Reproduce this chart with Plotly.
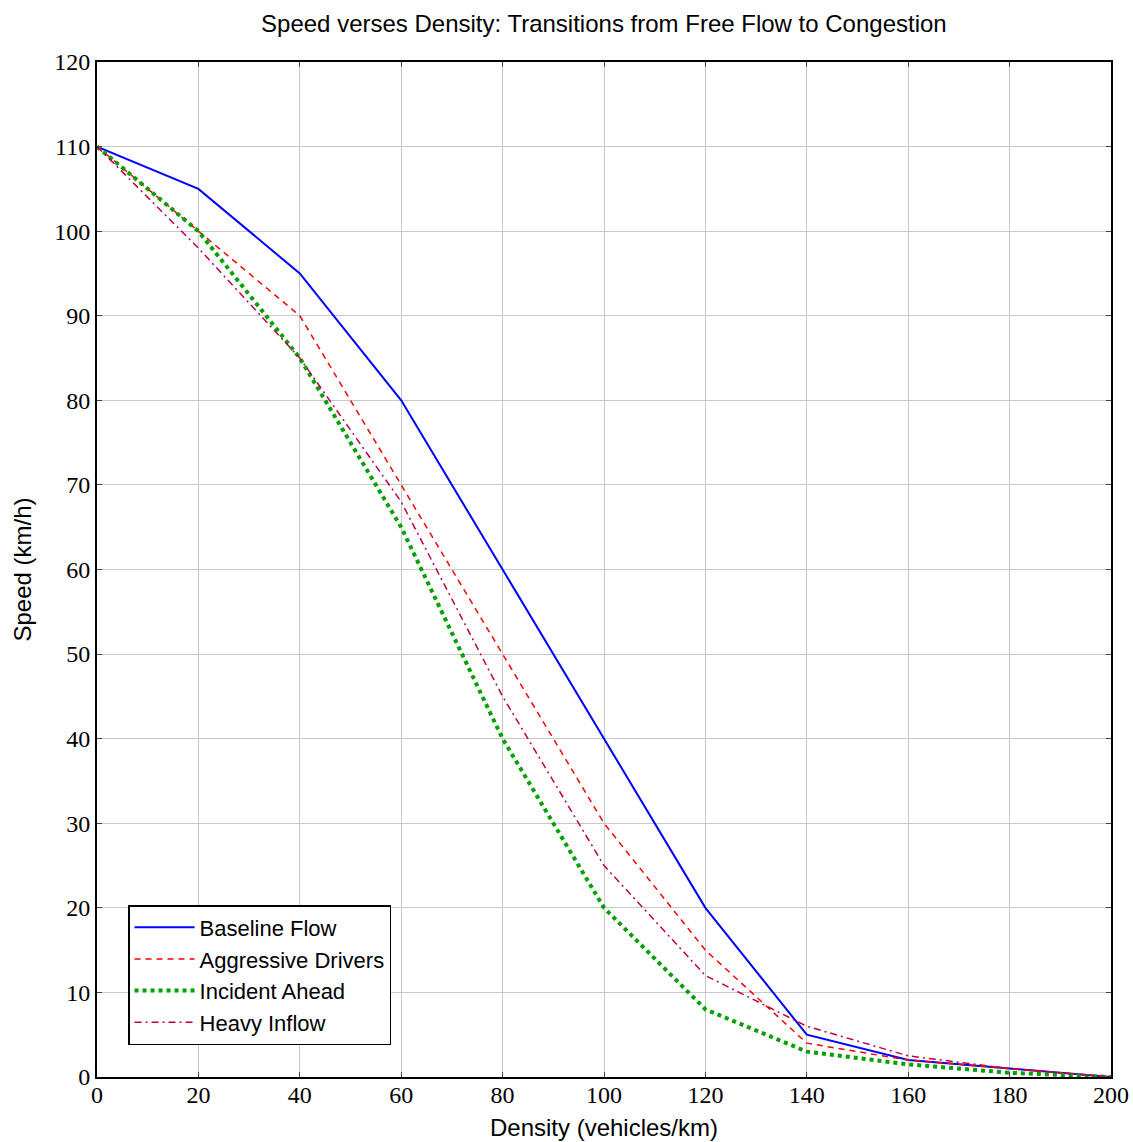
import plotly.graph_objects as go

density = [0, 20, 40, 60, 80, 100, 120, 140, 160, 180, 200]
baseline = [110, 105, 95, 80, 60, 40, 20, 5, 2, 1, 0]
aggressive = [110, 100, 90, 70, 50, 30, 15, 4, 2, 1, 0]
incident = [110, 100, 85, 65, 40, 20, 8, 3, 1.5, 0.5, 0]
heavy = [110, 98, 85, 68, 45, 25, 12, 6, 2.5, 1, 0]

x_ticks = [0, 20, 40, 60, 80, 100, 120, 140, 160, 180, 200]
y_ticks = [0, 10, 20, 30, 40, 50, 60, 70, 80, 90, 100, 110, 120]

fig = go.Figure()
fig.add_trace(go.Scatter(x=density, y=baseline, mode="lines", name="Baseline Flow",
                         line=dict(color="#0000ff", width=2, dash="solid")))
fig.add_trace(go.Scatter(x=density, y=aggressive, mode="lines", name="Aggressive Drivers",
                         line=dict(color="#ff0000", width=1.5, dash="6px,5px")))
fig.add_trace(go.Scatter(x=density, y=incident, mode="lines", name="Incident Ahead",
                         line=dict(color="#00a000", width=4, dash="4px,4px")))
fig.add_trace(go.Scatter(x=density, y=heavy, mode="lines", name="Heavy Inflow",
                         line=dict(color="#bf0040", width=1.5, dash="7px,4px,2px,4px")))

serif = "Liberation Serif, DejaVu Serif, serif"
sans = "Liberation Sans, Arial, sans-serif"

axis_common = dict(
    showgrid=True, gridcolor="#c8c8c8", gridwidth=1,
    showline=True, linecolor="black", linewidth=2, mirror="allticks",
    ticks="inside", ticklen=5, tickcolor="#444444", tickwidth=1,
    zeroline=False, automargin=False,
    tickfont=dict(family=serif, size=24, color="black"),
)

fig.update_xaxes(range=[0, 200], tickmode="array", tickvals=x_ticks,
                 ticklabelstandoff=-5,
                 title=dict(text="Density (vehicles/km)", font=dict(family=sans, size=24, color="black"), standoff=12),
                 **axis_common)
fig.update_yaxes(range=[0, 120], tickmode="array", tickvals=y_ticks,
                 ticklabelstandoff=0,
                 title=dict(text="Speed (km/h)", font=dict(family=sans, size=24, color="black"), standoff=16),
                 **axis_common)

fig.update_layout(
    width=1133, height=1142,
    margin=dict(l=97, r=22, t=62, b=65),
    plot_bgcolor="white", paper_bgcolor="white",
    title=dict(text="Speed verses Density: Transitions from Free Flow to Congestion",
               font=dict(family=sans, size=24, color="black"),
               x=0.533, xanchor="center", y=0.979, yanchor="middle"),
    legend=dict(x=0.0306, y=0.0315, xanchor="left", yanchor="bottom",
                bordercolor="black", borderwidth=1.5, bgcolor="white",
                font=dict(family=sans, size=22, color="black"),
                itemwidth=60, tracegroupgap=0),
    showlegend=True,
)

fig.write_html("out.html", config={"displayModeBar": False},
               post_script="document.body.style.margin='0';")
